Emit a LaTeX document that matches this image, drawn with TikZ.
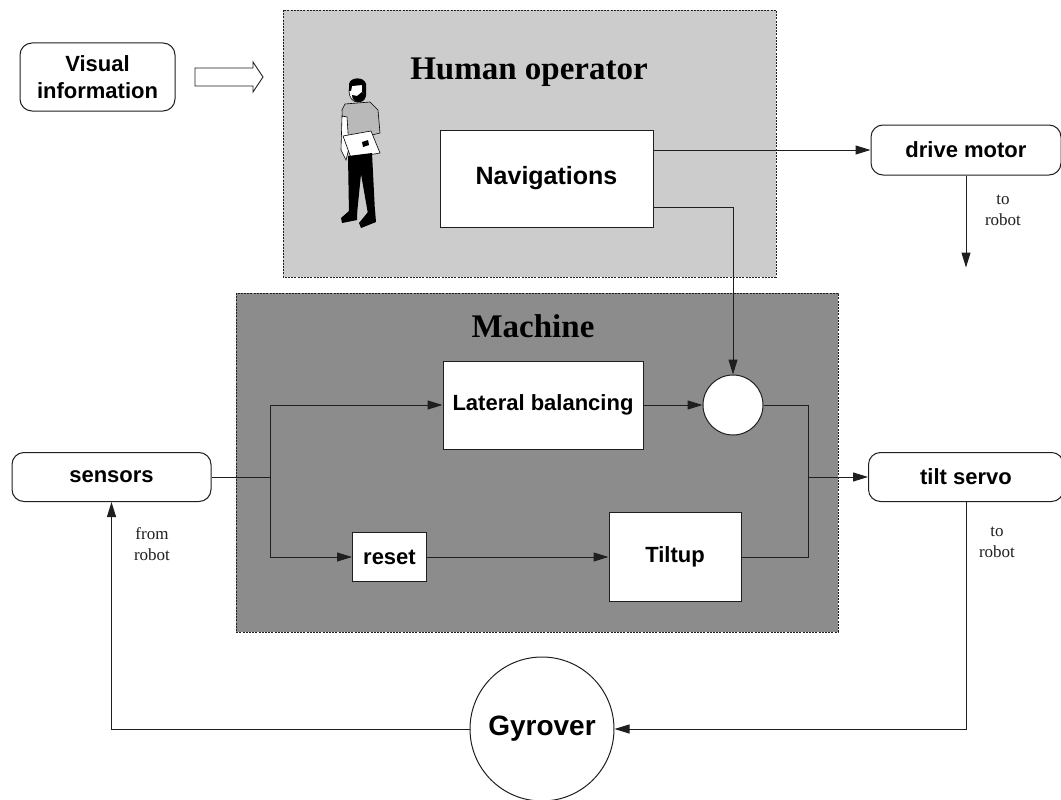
\documentclass[tikz,border=0pt]{standalone}
\usepackage{fontspec}
\setmainfont{Liberation Serif}
\setsansfont{Liberation Sans}
\usetikzlibrary{arrows.meta,calc}
\definecolor{panellight}{gray}{0.80}
\definecolor{paneldark}{gray}{0.55}
\definecolor{ink}{gray}{0.12}
\begin{document}
\begin{tikzpicture}[x=1pt,y=-1pt,
  box/.style={draw=ink, line width=1pt, fill=white, inner sep=0pt, text=black,
    font=\sffamily\bfseries\fontsize{22}{27}\selectfont, align=center},
  rbox/.style={box, rounded corners=12pt},
  panel/.style={draw=ink, line width=0.9pt, dash pattern=on 2pt off 1.2pt},
  wire/.style={draw=ink, line width=1pt},
  arr/.style={wire, -{Triangle[length=15pt,width=9pt]}},
  note/.style={font=\fontsize{17}{21}\selectfont, align=center, text=ink},
  paneltitle/.style={font=\bfseries\fontsize{33}{36}\selectfont, anchor=base, text=black}]

\useasboundingbox (0,0) rectangle (1061,800);

% shaded panels
\fill[panellight] (283,10) rectangle (776,277);
\draw[panel] (283,10) rectangle (776,277);
\fill[paneldark] (236,293) rectangle (838,632);
\draw[panel] (236,293) rectangle (838,632);
\node[paneltitle] (htitle) at (529,80) {Human operator};
\node[paneltitle] (mtitle) at (533,337) {Machine};

% operator figure
\begin{scope}[line width=0.6pt]
  % shirt
  \filldraw[fill=gray!55, draw=black] (345,104) -- (370,102) -- (378,110) -- (380,133)
     -- (372,135) -- (370,150) -- (348,152) -- (343,136) -- (342,110) -- cycle;
  % hanging arm
  \filldraw[fill=white, draw=black] (342,116) -- (347,117) -- (349,148) -- (346,160) -- (341,150) -- cycle;
  % folder
  \filldraw[fill=white, draw=black] (343,136) -- (371,131) -- (380,153) -- (351,158) -- cycle;
  \fill[black] (362,142) -- (368,140) -- (369,145) -- (363,147) -- cycle;
  % trousers
  \fill[black] (348,156) -- (372,153) -- (375,212) -- (368,214) -- (361,174) -- (357,214) -- (349,214) -- cycle;
  % shoes
  \fill[black] (349,211) -- (357,211) -- (357,220) -- (342,223) -- (341,218) -- cycle;
  \fill[black] (368,212) -- (375,210) -- (376,222) -- (361,228) -- (359,223) -- cycle;
  % head
  \filldraw[fill=white, draw=black] (357,91) ellipse [x radius=8, y radius=11];
  \fill[black] (349,91) -- (349,84) .. controls (350,77) and (364,76) .. (366,84)
     -- (366,96) -- (362,92) -- (362,85) -- (352,86) -- (351,91) -- cycle;
  \fill[black] (352,95) .. controls (352,104) and (364,105) .. (366,96) -- (362,92) -- (357,96) -- cycle;
\end{scope}

% blocks
\node[rbox, minimum width=155pt, minimum height=68pt] (vis) at (97.5,77) {Visual\\information};
\node[box, minimum width=213pt, minimum height=97pt, font=\sffamily\bfseries\fontsize{25}{30}\selectfont] (nav) at (546.5,178.5) {Navigations};
\node[rbox, minimum width=190pt, minimum height=50pt] (dm) at (966,150) {drive motor};
\node[box, minimum width=200pt, minimum height=88pt] (lat) at (543,405) {Lateral balancing};
\node[box, circle, minimum size=60pt] (sum) at (733,405) {};
\node[box, minimum width=74pt, minimum height=49pt] (reset) at (389.5,557) {reset};
\node[box, minimum width=132pt, minimum height=89pt] (tilt) at (675,557) {Tiltup};
\node[rbox, minimum width=199pt, minimum height=49pt] (sens) at (111.5,477) {sensors};
\node[rbox, minimum width=195pt, minimum height=49pt] (ts) at (966,477) {tilt servo};
\node[box, circle, minimum size=144pt, font=\sffamily\bfseries\fontsize{28}{32}\selectfont] (gy) at (542,729) {Gyrover};

% hollow arrow from the visual information
\filldraw[fill=white, draw=ink, line width=0.9pt]
  (195,68) -- (253,68) -- (253,62) -- (263,77) -- (253,92) -- (253,86) -- (195,86) -- cycle;

% helper points
\coordinate (split) at (270,477);
\coordinate (merge) at (808,477);
\coordinate (dmout) at ($(dm.south)+(0,92)$);

% connectors
\draw[arr] (nav.east |- dm.west) -- (dm.west);
\draw[arr] ($(nav.south east)+(0,-20)$) -| (sum.north);
\draw[arr] (dm.south) -- (dmout);
\draw[wire] (sens.east) -- (split);
\draw[arr] (split) |- (lat.west);
\draw[arr] (split) |- (reset.west);
\draw[arr] (reset.east) -- (tilt.west);
\draw[arr] (lat.east) -- (sum.west);
\draw[wire] (sum.east) -| (merge);
\draw[wire] (tilt.east) -| (merge);
\draw[arr] (merge) -- (ts.west);
\draw[arr] (ts.south) |- (gy.east);
\draw[arr] (gy.west) -| (sens.south);

% side notes
\node[note] (n1) at (1003,210) {to\\robot};
\node[note] (n2) at (152,544) {from\\robot};
\node[note] (n3) at (997,542) {to\\robot};
\end{tikzpicture}
\end{document}
